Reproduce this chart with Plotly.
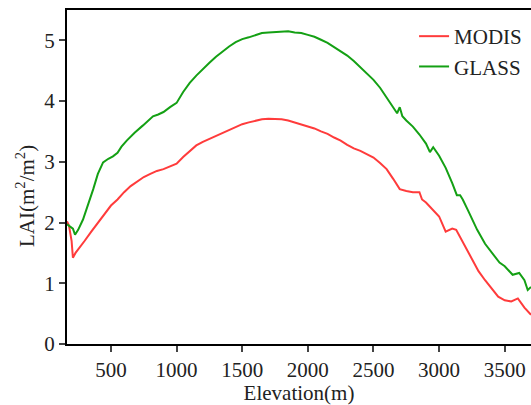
import plotly.graph_objects as go

modis_elev = [165, 180, 200, 210, 230, 260, 300, 350, 400, 450, 500, 550, 600, 650, 700, 750, 800, 850, 900, 950,
              1000, 1050, 1100, 1150, 1200, 1250, 1300, 1350, 1400, 1450, 1500, 1550, 1600, 1650, 1700, 1750, 1800,
              1850, 1900, 1950, 2000, 2050, 2100, 2150, 2200, 2250, 2300, 2350, 2400, 2450, 2500, 2550, 2600, 2650,
              2700, 2750, 2800, 2850, 2870, 2900, 2950, 3000, 3050, 3100, 3130, 3150, 3200, 3250, 3300, 3350, 3400,
              3450, 3500, 3550, 3600, 3650, 3700]
modis_lai = [2.02, 1.95, 1.70, 1.42, 1.50, 1.58, 1.70, 1.85, 2.00, 2.15, 2.28, 2.38, 2.50, 2.60, 2.68, 2.75, 2.80, 2.85,
             2.88, 2.92, 2.97, 3.08, 3.18, 3.27, 3.33, 3.38, 3.43, 3.48, 3.53, 3.58, 3.62, 3.65, 3.68, 3.70, 3.71,
             3.71, 3.70, 3.68, 3.65, 3.62, 3.58, 3.55, 3.50, 3.46, 3.40, 3.35, 3.28, 3.22, 3.18, 3.13, 3.07, 2.98,
             2.88, 2.72, 2.55, 2.52, 2.50, 2.50, 2.38, 2.33, 2.22, 2.10, 1.85, 1.90, 1.88, 1.80, 1.58, 1.40, 1.20,
             1.05, 0.92, 0.78, 0.72, 0.70, 0.75, 0.60, 0.48]

glass_elev = [165, 190, 210, 226, 250, 287, 320, 340, 365, 400, 440, 480, 515, 550, 580, 620, 680, 744, 790, 820, 860,
              900, 950, 1000, 1050, 1100, 1150, 1200, 1250, 1300, 1350, 1400, 1450, 1500, 1550, 1600, 1650, 1700,
              1750, 1800, 1850, 1900, 1950, 2000, 2050, 2100, 2150, 2200, 2250, 2300, 2350, 2400, 2450, 2500, 2550,
              2600, 2650, 2680, 2700, 2720, 2750, 2800, 2850, 2900, 2930, 2955, 3000, 3050, 3100, 3135, 3160, 3180,
              3220, 3290, 3350, 3400, 3460, 3500, 3560, 3610, 3650, 3675, 3700]
glass_lai = [1.97, 1.93, 1.90, 1.80, 1.88, 2.05, 2.25, 2.38, 2.55, 2.80, 2.99, 3.05, 3.09, 3.15, 3.25, 3.35, 3.48, 3.60,
             3.70, 3.75, 3.78, 3.82, 3.90, 3.97, 4.15, 4.30, 4.42, 4.53, 4.63, 4.73, 4.82, 4.90, 4.97, 5.02, 5.05,
             5.09, 5.12, 5.13, 5.14, 5.15, 5.15, 5.13, 5.12, 5.09, 5.06, 5.01, 4.96, 4.89, 4.82, 4.75, 4.66, 4.56,
             4.46, 4.35, 4.22, 4.05, 3.90, 3.80, 3.90, 3.75, 3.68, 3.58, 3.45, 3.30, 3.16, 3.24, 3.10, 2.90, 2.65,
             2.45, 2.45, 2.38, 2.20, 1.88, 1.65, 1.50, 1.34, 1.28, 1.14, 1.17, 1.05, 0.89, 0.94]

x_ticks = [500, 1000, 1500, 2000, 2500, 3000, 3500]
y_ticks = [0, 1, 2, 3, 4, 5]

FONT = "Liberation Serif"
FS = 21

fig = go.Figure()
fig.add_trace(go.Scatter(x=modis_elev, y=modis_lai, mode="lines", name="MODIS",
                         line=dict(color="#FF3B3B", width=2)))
fig.add_trace(go.Scatter(x=glass_elev, y=glass_lai, mode="lines", name="GLASS",
                         line=dict(color="#14A014", width=2)))

fig.update_layout(
    width=531, height=405,
    margin=dict(l=67, r=0, t=10, b=61, autoexpand=False),
    paper_bgcolor="white", plot_bgcolor="white",
    font=dict(family=FONT, size=FS, color="#222"),
    showlegend=True,
    legend=dict(x=0.748, y=0.982, xanchor="left", yanchor="top", bgcolor="rgba(0,0,0,0)",
                font=dict(family=FONT, size=FS), tracegroupgap=0),
    xaxis=dict(range=[165, 3700], tickvals=x_ticks, ticks="outside", ticklen=6, tickwidth=2,
               showline=True, linewidth=2, linecolor="black", mirror=True, showgrid=False, zeroline=False,
               automargin=False,
               title=dict(text="Elevation(m)", font=dict(family=FONT, size=FS), standoff=2),
               tickfont=dict(family=FONT, size=FS)),
    yaxis=dict(range=[0, 5.5], tickvals=y_ticks, ticks="outside", ticklen=6, tickwidth=2,
               showline=True, linewidth=2, linecolor="black", showgrid=False, zeroline=False,
               automargin=False, tickfont=dict(family=FONT, size=FS)),
    annotations=[dict(text="LAI(m<sup>2</sup>/m<sup>2</sup>)", xref="paper", yref="paper",
                      x=-0.0905, y=0.443, xanchor="center", yanchor="middle", textangle=-90,
                      showarrow=False, font=dict(family=FONT, size=FS, color="#222"))],
)

fig.write_html("out.html", config={"displayModeBar": False},
               post_script="document.body.style.margin='0';document.body.style.overflow='hidden';")
